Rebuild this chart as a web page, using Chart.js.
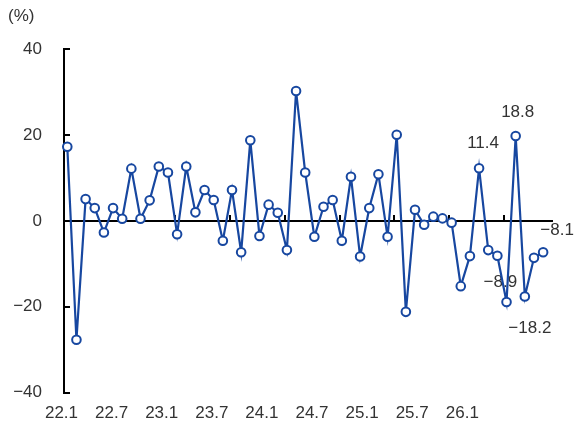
<!DOCTYPE html>
<html>
<head>
<meta charset="utf-8">
<script src="https://cdn.jsdelivr.net/npm/chart.js@4"></script>
<style>
  html, body { margin: 0; padding: 0; background: #fff; }
  #wrap { width: 576px; height: 428px; }
</style>
</head>
<body>
<div id="wrap"><canvas id="lineChart"></canvas></div>
<script>
// monthly change (%), 22.1 onwards
const values = [
  17.3, -27.7, 5.1, 3.0, -2.7, 3.0, 0.5, 12.2, 0.5, 4.8, 12.7, 11.3,
  -3.1, 12.7, 2.0, 7.2, 4.9, -4.6, 7.2, -7.3, 18.8, -3.5, 3.8, 1.9,
  -6.8, 30.3, 11.3, -3.7, 3.3, 4.9, -4.6, 10.3, -8.3, 3.0, 10.9, -3.7,
  20.1, -21.2, 2.6, -0.9, 1.0, 0.6, -0.4, -15.2, -8.2, 12.3, -6.8, -8.1,
  -18.9, 19.8, -17.6, -8.6, -7.3
];
const tickLabels = ["22.1", "22.7", "23.1", "23.7", "24.1", "24.7", "25.1", "25.7", "26.1"];
const yTicks = [40, 20, 0, -20, -40];

// value labels next to the last points
const callouts = [
  { index: 49, text: "18.8", dx: 2, dy: -24 },
  { index: 45, text: "11.4", dx: 4, dy: -25 },
  { index: 52, text: "\u22128.1", dx: 14, dy: -22 },
  { index: 47, text: "\u22128.9", dx: 3, dy: 27 },
  { index: 50, text: "\u221218.2", dx: 5, dy: 32 }
];

const FONT = "'Liberation Sans', Arial, sans-serif";
const TEXT = "#333";
const BLUE = "#1747a0";

const minus = v => (v < 0 ? "\u2212" + Math.abs(v) : String(v));

const calloutPlugin = {
  id: "callouts",
  beforeDatasetsDraw(chart) {
    const meta = chart.getDatasetMeta(0);
    const ctx = chart.ctx;
    ctx.save();
    ctx.font = "17px " + FONT;
    ctx.fillStyle = TEXT;
    ctx.textAlign = "center";
    ctx.textBaseline = "middle";
    callouts.forEach(c => {
      const pt = meta.data[c.index];
      ctx.fillText(c.text, pt.x + c.dx, pt.y + c.dy);
    });
    ctx.restore();
  }
};

new Chart(document.getElementById("lineChart"), {
  type: "line",
  data: {
    datasets: [{
      data: values.map((v, i) => ({ x: i, y: v })),
      borderColor: BLUE,
      borderWidth: 2.2,
      pointRadius: 4.3,
      pointBorderWidth: 2,
      pointBackgroundColor: "#fff",
      pointBorderColor: BLUE,
      tension: 0,
      clip: false
    }]
  },
  options: {
    responsive: true,
    maintainAspectRatio: false,
    animation: false,
    layout: { padding: { left: 8, right: 24, top: 0, bottom: 0 } },
    plugins: {
      legend: { display: false },
      tooltip: { enabled: false },
      title: {
        display: true,
        text: "(%)",
        align: "start",
        color: TEXT,
        font: { family: FONT, size: 17, weight: "normal" },
        padding: { top: 6, bottom: 23 }
      }
    },
    scales: {
      x: {
        type: "linear",
        position: { y: 0 },
        min: -0.36,
        max: 52.97,
        afterBuildTicks: scale => {
          scale.ticks = [11.75, 17.75, 23.75, 29.75, 35.75, 41.75, 47.75].map(v => ({ value: v }));
        },
        ticks: { display: false },
        grid: {
          drawOnChartArea: false,
          drawTicks: true,
          tickLength: -7,
          tickColor: "#000",
          lineWidth: 2
        },
        border: { display: true, color: "#000", width: 2 }
      },
      xl: {
        type: "linear",
        position: "bottom",
        min: 0.05,
        max: 9.79,
        afterBuildTicks: scale => {
          scale.ticks = tickLabels.map((t, i) => ({ value: i }));
        },
        afterFit: scale => { scale.height = 35.5; },
        ticks: {
          autoSkip: false,
          maxRotation: 0,
          padding: 11,
          color: TEXT,
          font: { family: FONT, size: 17 },
          callback: (v, i) => tickLabels[i]
        },
        grid: { display: false, drawTicks: false },
        border: { display: false }
      },
      y: {
        type: "linear",
        min: -40,
        max: 40,
        afterBuildTicks: scale => {
          scale.ticks = yTicks.map(v => ({ value: v }));
        },
        afterFit: scale => {
          scale.width = 56;
          scale.paddingTop = 0;
          scale.paddingBottom = 0;
        },
        ticks: {
          padding: 28,
          color: TEXT,
          font: { family: FONT, size: 17 },
          callback: v => minus(v)
        },
        grid: {
          drawOnChartArea: false,
          drawTicks: true,
          tickLength: -6,
          tickColor: "#000",
          lineWidth: 2
        },
        border: { display: true, color: "#000", width: 2 }
      }
    }
  },
  plugins: [calloutPlugin]
});
</script>
</body>
</html>
